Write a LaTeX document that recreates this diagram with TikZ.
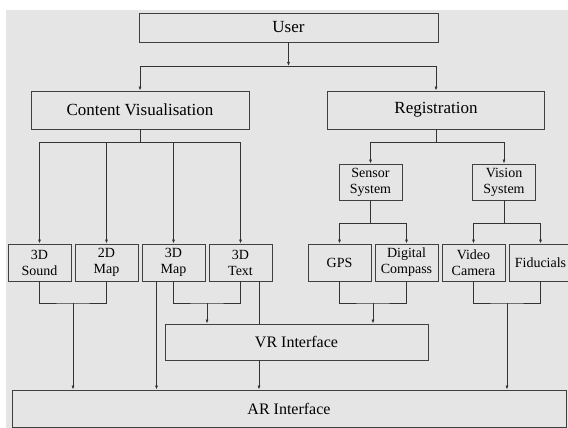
\documentclass[tikz,border=0pt]{standalone}
\usepackage{fontspec}
\setmainfont{Liberation Serif}
\usepackage{tikz}
\usetikzlibrary{arrows.meta,positioning}

\begin{document}
\begin{tikzpicture}[x=1pt, y=-1pt,
  box/.style={draw=black!75, line width=0.8pt, inner sep=0pt, align=center},
  bigbox/.style={box, minimum height=38pt, font=\fontsize{17}{19}\selectfont},
  smallbox/.style={box, minimum width=63pt, minimum height=37pt, font=\fontsize{14}{16}\selectfont},
  wide/.style={box, minimum height=37pt, font=\fontsize{16}{18}\selectfont},
  link/.style={draw=black!80, line width=0.7pt},
  >={Latex[length=4pt,width=3pt]}]
  \useasboundingbox (0,0) rectangle (568,428);
  \clip (0,0) rectangle (568,428);
  % Background
  \fill[black!10] (6,10) rectangle (568,428);
  % Top levels
  \node[box, minimum width=299pt, minimum height=29pt, font=\fontsize{17}{19}\selectfont] (user) at (288.5,27.5) {User};
  \node[bigbox, minimum width=218pt] (cv) at (140,110) {Content Visualisation};
  \node[bigbox, minimum width=217pt] (reg) at (436,110) {Registration};
  % Registration systems
  \node[smallbox, minimum height=36pt] (sens) at (370.5,182) {Sensor\\System};
  \node[smallbox, minimum height=36pt] (vis) at (504,182) {Vision\\System};
  % Leaf boxes
  \node[smallbox] (snd) at (39.5,262.5) {3D\\Sound};
  \node[smallbox] (map2) at (106.5,262.5) {2D\\Map};
  \node[smallbox] (map3) at (173.5,262.5) {3D\\Map};
  \node[smallbox] (txt) at (240.5,262.5) {3D\\Text};
  \node[smallbox] (gps) at (339.5,262.5) {GPS};
  \node[smallbox] (comp) at (406.5,262.5) {Digital\\Compass};
  \node[smallbox] (cam) at (473.5,262.5) {Video\\Camera};
  \node[smallbox] (fid) at (540.5,262.5) {Fiducials};
  % Interfaces
  \node[wide, minimum width=263pt, minimum height=36pt] (vr) at (296.5,342) {VR Interface};
  \node[wide, minimum width=554pt] (ar) at (289,408.5) {AR Interface};
  % User split
  \coordinate (uj) at (288.5,66);
  \draw[link,->] (user.south) -- (uj);
  \draw[link,->] (uj) -| (cv.north);
  \draw[link,->] (uj) -| (reg.north);
  % Content split
  \coordinate (cj) at (140,142);
  \draw[link] (cv.south) -- (cj);
  \draw[link,->] (cj) -| (snd.north);
  \draw[link,->] (cj) -| (txt.north);
  \draw[link,->] (map2.north |- cj) -- (map2.north);
  \draw[link,->] (map3.north |- cj) -- (map3.north);
  % Registration split
  \coordinate (rj) at (436,142);
  \draw[link] (reg.south) -- (rj);
  \draw[link,->] (rj) -| (sens.north);
  \draw[link,->] (rj) -| (vis.north);
  \draw[link] (sens.south) -- ++(0,23) coordinate (sj);
  \draw[link,->] (sj) -| (gps.north);
  \draw[link,->] (sj) -| (comp.north);
  \draw[link] (vis.south) -- ++(0,23) coordinate (vj);
  \draw[link,->] (vj) -| (cam.north);
  \draw[link,->] (vj) -| (fid.north);
  % Leaves to interfaces
  \coordinate (b1) at (73,303);
  \draw[link] (snd.south) |- (b1) -| (map2.south);
  \draw[link,->] (b1) -- (b1 |- ar.north);
  \coordinate (b2) at (207,303);
  \draw[link] (map3.south) |- (b2) -| (txt.south);
  \draw[link,->] (b2) -- (b2 |- vr.north);
  \draw[link,->] ([xshift=-17pt]map3.south) coordinate (m3) -- (m3 |- ar.north);
  \draw[link] ([xshift=18.5pt]txt.south) coordinate (t3) -- (t3 |- vr.north);
  \draw[link,->] (vr.south -| t3) -- (t3 |- ar.north);
  \coordinate (b3) at (373,303);
  \draw[link] (gps.south) |- (b3) -| (comp.south);
  \draw[link,->] (b3) -- (b3 |- vr.north);
  \coordinate (b4) at (507,303);
  \draw[link] (cam.south) |- (b4) -| (fid.south);
  \draw[link,->] (b4) -- (b4 |- ar.north);
\end{tikzpicture}
\end{document}
